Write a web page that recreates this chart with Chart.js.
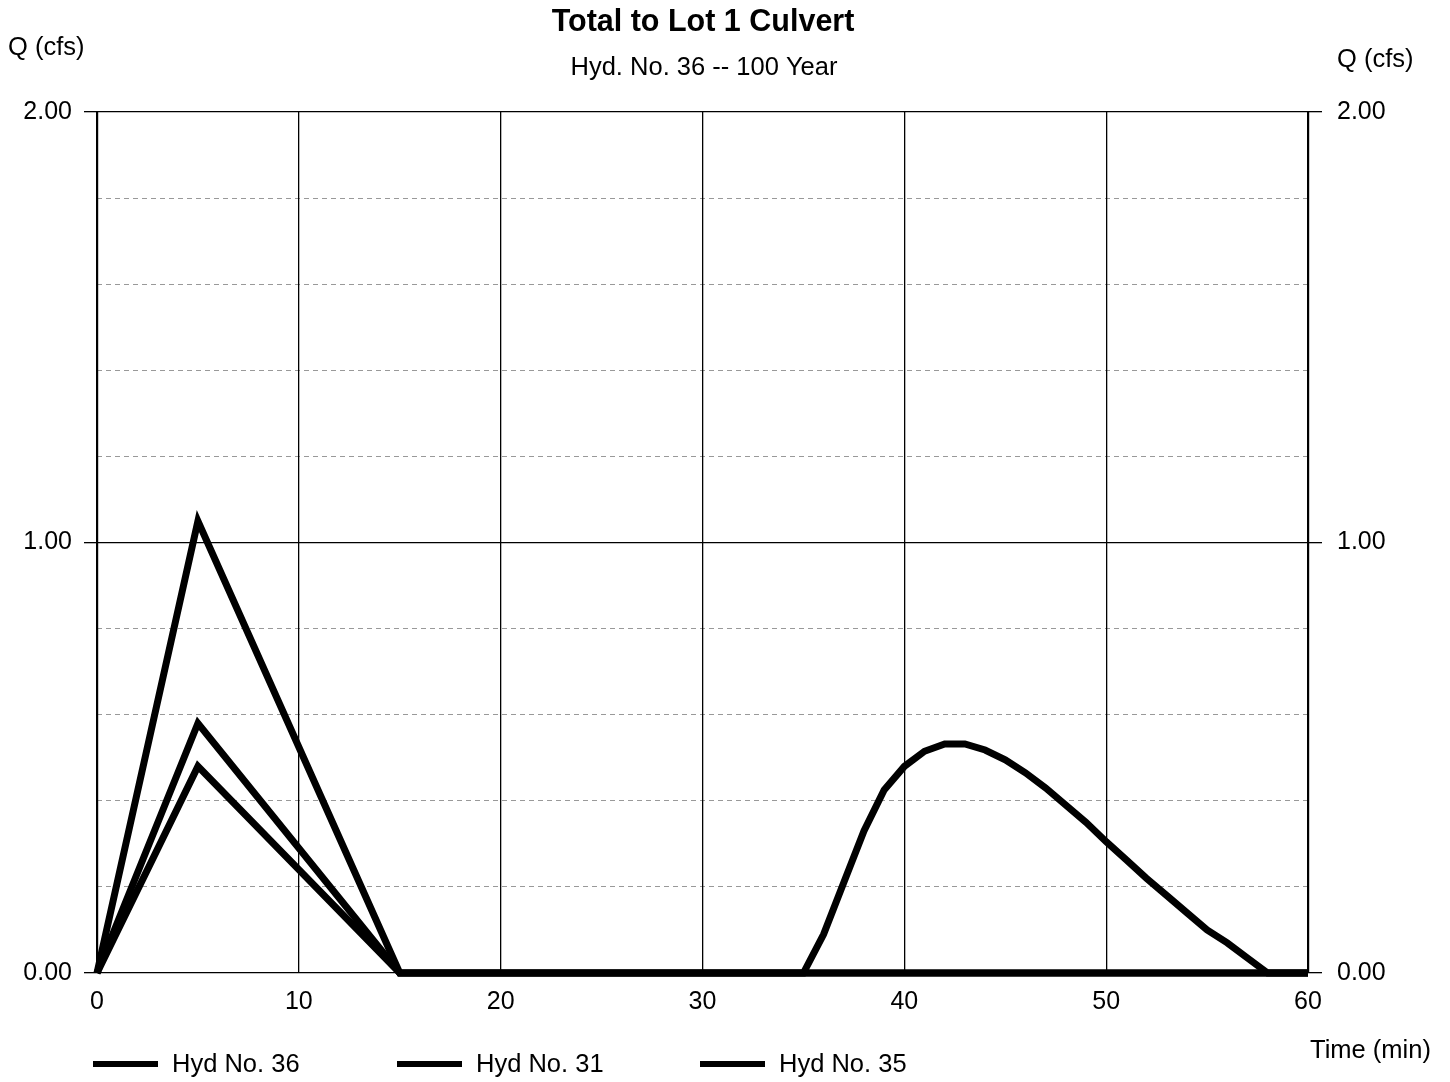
<!DOCTYPE html>
<html>
<head>
<meta charset="utf-8">
<title>Total to Lot 1 Culvert</title>
<script src="https://cdn.jsdelivr.net/npm/chart.js@4"></script>
<style>
    html, body { margin: 0; padding: 0; background: #fff; }
    #wrap { width: 1450px; height: 1082px; }
</style>
</head>
<body>
<div id="wrap"><canvas id="chart" width="1450" height="1082"></canvas></div>
<script>
// --- Data (time in min, flow in cfs) ---

const hyd36Time = [0, 5, 15, 35, 36, 37, 38, 39, 40, 41, 42, 43, 44, 45, 46, 47, 48, 49, 50, 51, 52, 53, 54, 55, 56, 57, 58, 60];
const hyd36Flow = [0, 1.05, 0, 0, 0.09, 0.21, 0.33, 0.425, 0.48, 0.515, 0.532, 0.532, 0.518, 0.495, 0.465, 0.43, 0.39, 0.35, 0.305, 0.263, 0.22, 0.18, 0.14, 0.10, 0.07, 0.035, 0, 0];

const hyd31Time = [0, 5, 15, 60];
const hyd31Flow = [0, 0.58, 0, 0];

const hyd35Time = [0, 5, 15, 60];
const hyd35Flow = [0, 0.48, 0, 0];

const seriesNames = ['Hyd No. 36', 'Hyd No. 31', 'Hyd No. 35'];

const xTicks = [0, 10, 20, 30, 40, 50, 60];
const yTicks = [0, 1, 2];

const FONT = '"Liberation Sans", Arial, Helvetica, sans-serif';

function toPoints(times, flows) {
    return times.map((t, i) => ({ x: t, y: flows[i] }));
}

function lineDataset(label, times, flows) {
    return {
        label,
        data: toPoints(times, flows),
        borderColor: '#000',
        borderWidth: 7,
        borderJoinStyle: 'miter',
        pointRadius: 0,
        tension: 0,
        fill: false,
        clip: 10
    };
}

// --- Text around the plot: titles, axis captions, legend ---

const textPlugin = {
    id: 'hydText',
    afterDraw(chart) {
        const ctx = chart.ctx;
        ctx.save();
        ctx.fillStyle = '#000';
        ctx.textBaseline = 'middle';

        ctx.textAlign = 'center';
        ctx.font = 'bold 30.5px ' + FONT;
        ctx.fillText('Total to Lot 1 Culvert', 703, 23);
        ctx.font = '25.5px ' + FONT;
        ctx.fillText('Hyd. No. 36 -- 100 Year', 704, 68);

        ctx.textAlign = 'left';
        ctx.fillText('Q (cfs)', 8, 48);
        ctx.fillText('Q (cfs)', 1337, 60);
        ctx.fillText('Time (min)', 1310, 1051);

        // legend: short thick line followed by the series name
        const legendX = [93, 397, 700];
        const legendY = 1064;
        chart.data.datasets.forEach((ds, i) => {
            const x = legendX[i];
            ctx.beginPath();
            ctx.lineWidth = 6;
            ctx.lineCap = 'butt';
            ctx.strokeStyle = ds.borderColor;
            ctx.moveTo(x, legendY);
            ctx.lineTo(x + 65, legendY);
            ctx.stroke();
            ctx.fillText(ds.label, x + 79, legendY + 1);
        });
        ctx.restore();
    }
};

new Chart(document.getElementById('chart'), {
    type: 'line',
    data: {
        datasets: [
            lineDataset(seriesNames[0], hyd36Time, hyd36Flow),
            lineDataset(seriesNames[1], hyd31Time, hyd31Flow),
            lineDataset(seriesNames[2], hyd35Time, hyd35Flow)
        ]
    },
    options: {
        responsive: false,
        animation: false,
        layout: { padding: { top: 112, left: 0, right: 0, bottom: 0 } },
        plugins: {
            legend: { display: false },
            title: { display: false },
            tooltip: { enabled: false }
        },
        scales: {
            x: {
                type: 'linear',
                min: 0,
                max: 60,
                afterBuildTicks: (scale) => { scale.ticks = xTicks.map(v => ({ value: v })); },
                afterFit: (scale) => { scale.height = 109; },
                ticks: {
                    color: '#000',
                    font: { family: FONT, size: 25 },
                    padding: 14,
                    maxRotation: 0,
                    callback: (v) => String(v)
                },
                grid: {
                    color: '#000',
                    lineWidth: (c) => (c.tick && (c.tick.value === 0 || c.tick.value === 60)) ? 2.2 : 1.3,
                    drawTicks: false
                },
                border: { display: false }
            },
            y: {
                position: 'left',
                min: 0,
                max: 2,
                afterBuildTicks: (scale) => { scale.ticks = yTicks.map(v => ({ value: v })); },
                afterFit: (scale) => { scale.width = 97; },
                ticks: {
                    color: '#000',
                    font: { family: FONT, size: 25 },
                    padding: 12,
                    callback: (v) => v.toFixed(2)
                },
                grid: { color: '#000', lineWidth: 1.3, tickLength: 13 },
                border: { display: false }
            },
            yMinor: {
                position: 'left',
                min: 0,
                max: 2,
                ticks: { display: false, stepSize: 0.2 },
                afterFit: (scale) => { scale.width = 0; },
                grid: {
                    drawTicks: false,
                    lineWidth: 1,
                    color: (c) => {
                        const v = c.tick ? c.tick.value : 0;
                        return Math.abs(v - Math.round(v)) < 1e-6 ? 'rgba(0,0,0,0)' : 'rgba(0,0,0,0.4)';
                    }
                },
                border: { display: false, dash: [5, 4] }
            },
            yRight: {
                position: 'right',
                min: 0,
                max: 2,
                afterBuildTicks: (scale) => { scale.ticks = yTicks.map(v => ({ value: v })); },
                afterFit: (scale) => { scale.width = 142; },
                ticks: {
                    color: '#000',
                    font: { family: FONT, size: 25 },
                    padding: 15,
                    callback: (v) => v.toFixed(2)
                },
                grid: { drawOnChartArea: false, color: '#000', lineWidth: 1.3, tickLength: 14 },
                border: { display: false }
            }
        }
    },
    plugins: [textPlugin]
});
</script>
</body>
</html>
